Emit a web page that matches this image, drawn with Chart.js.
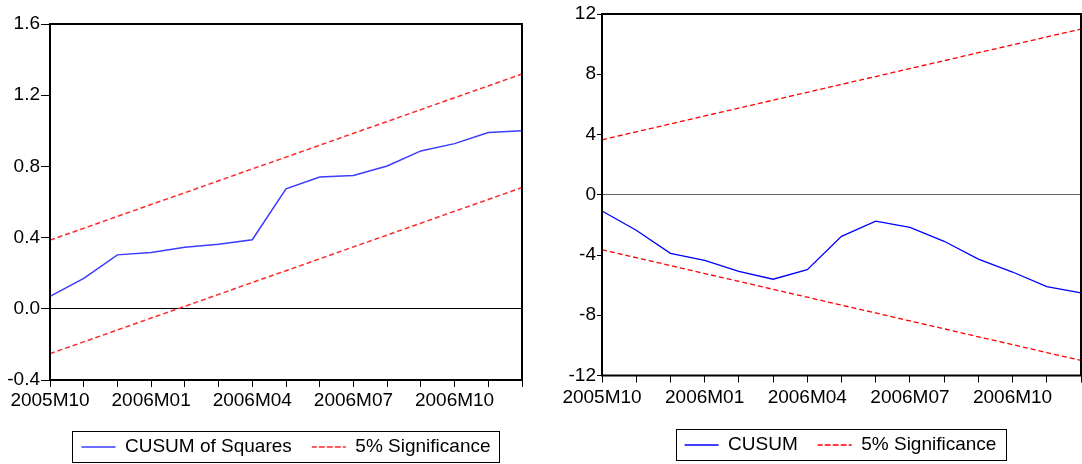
<!DOCTYPE html>
<html>
<head>
<meta charset="utf-8">
<script src="https://cdn.jsdelivr.net/npm/chart.js@4/dist/chart.umd.min.js"></script>
<style>
  html, body { margin: 0; padding: 0; background: #fff; }
  body { width: 1082px; height: 464px; overflow: hidden; position: relative; }
  canvas { position: absolute; top: 0; }
  #sq-chart { left: 0; }
  #cusum-chart { left: 540px; }
</style>
</head>
<body>
<canvas id="sq-chart" width="572" height="470"></canvas>
<canvas id="cusum-chart" width="601" height="470"></canvas>
<script>
var months = ['2005M10', '2005M11', '2005M12', '2006M01', '2006M02', '2006M03', '2006M04',
              '2006M05', '2006M06', '2006M07', '2006M08', '2006M09', '2006M10', '2006M11', '2006M12'];

// CUSUM of squares and its 5% band
var cusumSq = [0.070, 0.171, 0.303, 0.316, 0.346, 0.363, 0.388, 0.674, 0.740, 0.749, 0.802, 0.887, 0.928, 0.990, 1.000];
var sqUpper = [0.386, 0.452, 0.519, 0.586, 0.652, 0.719, 0.786, 0.852, 0.919, 0.986, 1.052, 1.119, 1.186, 1.252, 1.319];
var sqLower = [-0.252, -0.186, -0.119, -0.052, 0.014, 0.081, 0.148, 0.214, 0.281, 0.348, 0.414, 0.481, 0.548, 0.614, 0.681];

// CUSUM and its 5% band
var cusum = [-1.08, -2.36, -3.89, -4.35, -5.08, -5.61, -4.97, -2.76, -1.75, -2.17, -3.09, -4.27, -5.13, -6.10, -6.52];
var cuUpper = [3.65, 4.18, 4.70, 5.23, 5.75, 6.28, 6.80, 7.33, 7.85, 8.38, 8.90, 9.43, 9.95, 10.48, 11.00];
var cuLower = [-3.65, -4.18, -4.70, -5.23, -5.75, -6.28, -6.80, -7.33, -7.85, -8.38, -8.90, -9.43, -9.95, -10.48, -11.00];

Chart.defaults.font.family = "'Liberation Sans', Arial, sans-serif";
Chart.defaults.font.size = 19;
Chart.defaults.color = '#000';
Chart.defaults.animation = false;

// box round the plot area and round the legend
var framePlugin = {
    id: 'frame',
    afterDraw: function(chart) {
        var ctx = chart.ctx;
        var a = chart.chartArea;
        ctx.save();
        ctx.strokeStyle = '#000';
        ctx.lineWidth = 2;
        ctx.strokeRect(a.left, a.top, a.right - a.left, a.bottom - a.top);
        var hb = chart.legend.legendHitBoxes;
        if (hb && hb.length) {
            var last = hb[hb.length - 1];
            var left = hb[0].left - 9;
            var right = last.left + last.width + 9;
            var cy = hb[0].top + hb[0].height / 2;
            ctx.lineWidth = 1;
            ctx.strokeRect(Math.round(left) + 0.5, Math.round(cy - 16) + 0.5,
                           Math.round(right - left), 31);
        }
        ctx.restore();
    }
};

function makeChart(id, values, upper, lower, opts) {
    var ctx = document.getElementById(id).getContext('2d');
    return new Chart(ctx, {
        type: 'line',
        data: {
            labels: months,
            datasets: [{
                label: opts.name,
                data: values,
                borderColor: opts.blue,
                backgroundColor: 'rgba(0,0,0,0)',
                borderWidth: opts.lineWidth,
                pointRadius: 0,
                tension: 0
            }, {
                label: '5% Significance',
                data: upper,
                borderColor: opts.red,
                backgroundColor: 'rgba(0,0,0,0)',
                borderWidth: opts.lineWidth,
                borderDash: [5, 3],
                pointRadius: 0,
                tension: 0
            }, {
                label: '5% Significance',
                data: lower,
                borderColor: opts.red,
                backgroundColor: 'rgba(0,0,0,0)',
                borderWidth: opts.lineWidth,
                borderDash: [5, 3],
                pointRadius: 0,
                tension: 0
            }]
        },
        options: {
            responsive: false,
            layout: { padding: { left: 0, right: 0, top: opts.top, bottom: opts.padBottom } },
            plugins: {
                tooltip: { enabled: false },
                legend: {
                    position: 'bottom',
                    labels: {
                        // flat box = a line sample that keeps the dash
                        boxWidth: 34,
                        boxHeight: 0,
                        padding: 20,
                        color: '#000',
                        filter: function(item) { return item.datasetIndex !== 2; }
                    }
                }
            },
            scales: {
                x: {
                    grid: { drawOnChartArea: false, drawTicks: true, tickLength: 7, tickColor: '#000' },
                    border: { display: false },
                    ticks: {
                        autoSkip: false,
                        maxRotation: 0,
                        padding: opts.xPad,
                        callback: function(v, i) { return i % 3 === 0 ? months[i] : ''; }
                    },
                    afterFit: function(s) { s.height = opts.xHeight; }
                },
                y: {
                    min: opts.min,
                    max: opts.max,
                    grid: {
                        tickLength: opts.yTick,
                        tickColor: '#000',
                        color: function(c) { return Math.abs(c.tick.value) < 1e-9 ? opts.zero : 'rgba(0,0,0,0)'; }
                    },
                    border: { display: false },
                    ticks: {
                        stepSize: opts.step,
                        padding: 1,
                        callback: opts.fmt
                    },
                    afterFit: function(s) { s.width = opts.yWidth; }
                },
                yR: {
                    position: 'right',
                    display: true,
                    grid: { display: false },
                    border: { display: false },
                    ticks: { display: false },
                    afterFit: function(s) { s.width = opts.rWidth; }
                }
            }
        },
        plugins: [framePlugin]
    });
}

var sqChart = makeChart('sq-chart', cusumSq, sqUpper, sqLower, {
    name: 'CUSUM of Squares', blue: '#3c3cff', red: '#ff2a2a', lineWidth: 1.5,
    min: -0.4, max: 1.6, step: 0.4, zero: '#000',
    fmt: function(v) { return v.toFixed(1); },
    top: 24, padBottom: 3.5, xHeight: 37.5, xPad: 2, yTick: 9, yWidth: 50, rWidth: 50
});

var cusumChart = makeChart('cusum-chart', cusum, cuUpper, cuLower, {
    name: 'CUSUM', blue: '#0000ff', red: '#ff0000', lineWidth: 1.3,
    min: -12, max: 12, step: 4, zero: '#666',
    fmt: function(v) { return String(v); },
    top: 14, padBottom: 5.5, xHeight: 40, xPad: 4, yTick: 5, yWidth: 62, rWidth: 60
});
</script>
</body>
</html>
